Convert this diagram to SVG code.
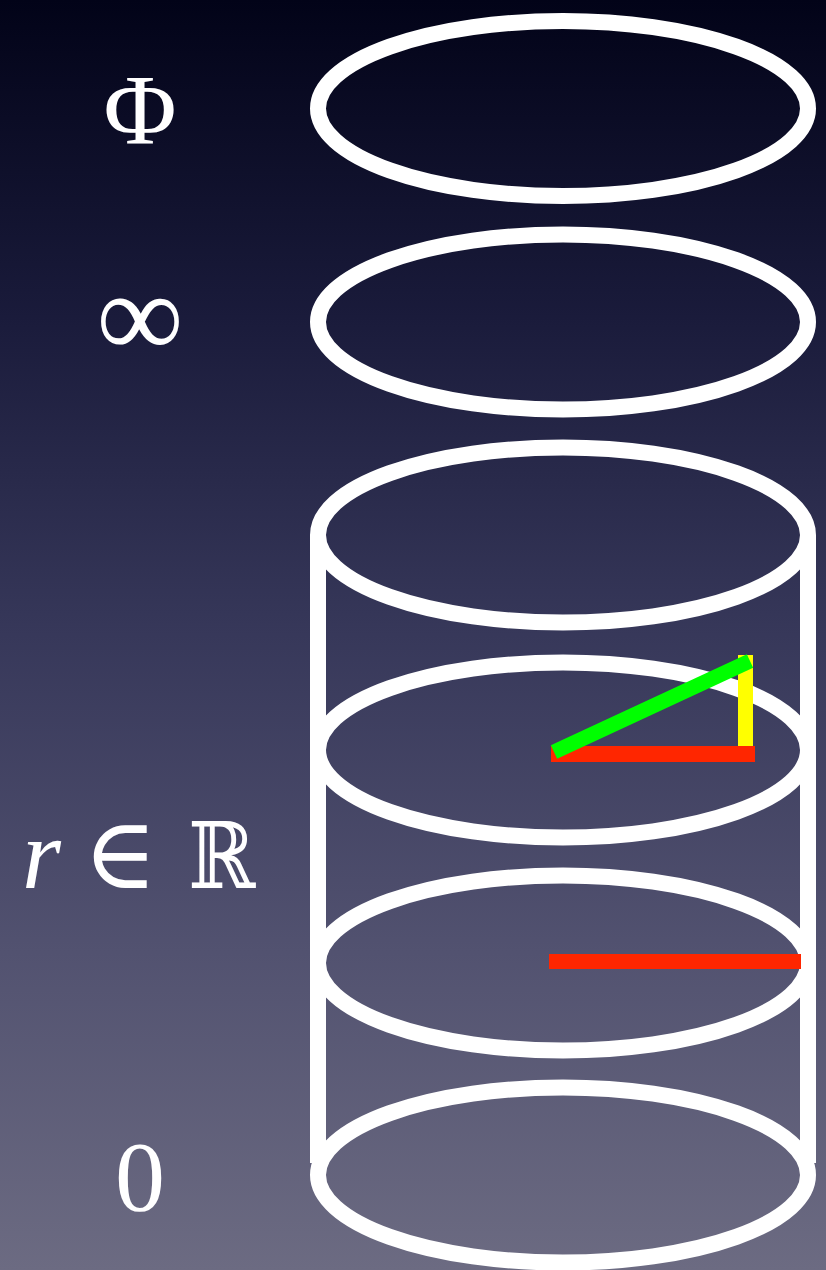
<svg xmlns="http://www.w3.org/2000/svg" width="826" height="1270" viewBox="0 0 826 1270">
<defs>
<linearGradient id="bg" x1="0" y1="0" x2="0" y2="1">
<stop offset="0" stop-color="#020318"/>
<stop offset="0.25" stop-color="#1a1b3b"/>
<stop offset="0.5" stop-color="#37385a"/>
<stop offset="0.75" stop-color="#525270"/>
<stop offset="1" stop-color="#6c6b82"/>
</linearGradient>
<style>
.ring{fill:none;stroke:#ffffff;stroke-width:16}
.side{stroke:#ffffff;stroke-width:16}
.lbl{fill:#ffffff;font-family:"Liberation Serif","DejaVu Serif",serif;font-size:100px;text-anchor:middle}
</style>
</defs>
<rect x="0" y="0" width="826" height="1270" fill="url(#bg)"/>
<g id="connectors">
<line class="side" x1="318" y1="535" x2="318" y2="1163"/>
<line class="side" x1="808" y1="535" x2="808" y2="1163"/>
</g>
<g id="ring-phi"><ellipse class="ring" cx="563" cy="108.5" rx="245" ry="87.5"/></g>
<g id="ring-inf"><ellipse class="ring" cx="563" cy="322" rx="245" ry="87.5"/></g>
<g id="ring-3"><ellipse class="ring" cx="563" cy="535" rx="245" ry="87.5"/></g>
<g id="ring-4"><ellipse class="ring" cx="563" cy="750" rx="245" ry="87.5"/></g>
<g id="ring-5"><ellipse class="ring" cx="563" cy="963" rx="245" ry="87.5"/></g>
<g id="ring-0"><ellipse class="ring" cx="563" cy="1175" rx="245" ry="87.5"/></g>
<g id="triangle">
<rect x="551" y="746" width="204" height="16" fill="#ff2600"/>
<rect x="738" y="655" width="15" height="91" fill="#ffff00"/>
<line x1="554" y1="752" x2="750" y2="661" stroke="#00ff00" stroke-width="15"/>
</g>
<g id="radius"><rect x="549" y="954" width="252" height="15" fill="#ff2600"/></g>
<g id="label-phi"><text class="lbl" x="140" y="143">Φ</text></g>
<g id="label-inf"><text class="lbl" x="140" y="357" style="font-size:122px">∞</text></g>
<g id="label-r">
<text class="lbl" x="22" y="888" style="text-anchor:start;font-style:italic">r</text>
<text class="lbl" x="83" y="888" style="text-anchor:start">∈</text>
<text class="lbl" transform="translate(188,888) scale(0.88,1)" x="0" y="0" style="text-anchor:start;font-size:92px">ℝ</text>
</g>
<g id="label-0"><text class="lbl" x="140" y="1210">0</text></g>
</svg>
